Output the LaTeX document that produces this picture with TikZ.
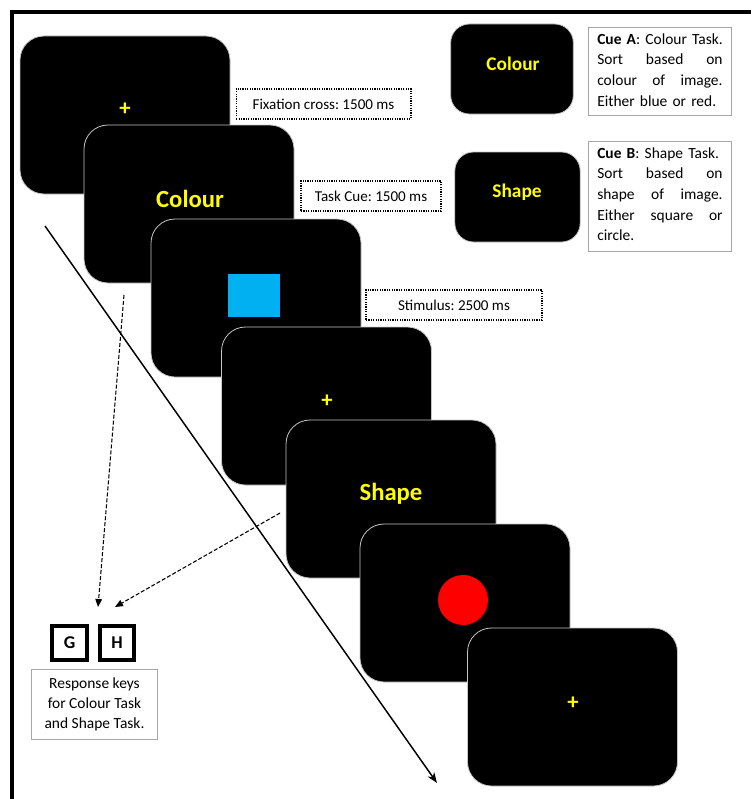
\documentclass[tikz,border=0pt]{standalone}
\usepackage{fontspec}
\setmainfont{Carlito}
\usetikzlibrary{arrows.meta}
\definecolor{cueyellow}{HTML}{FFFF00}
\definecolor{stimblue}{HTML}{00B0F0}
\definecolor{stimred}{HTML}{FF0000}
\newcommand{\fullline}[1]{\makebox[\linewidth][l]{#1}}
\frenchspacing
\begin{document}
\begin{tikzpicture}[x=0.75pt,y=-0.75pt,
  slide/.style={fill=black, draw=gray!45, line width=0.6pt, rounded corners=18pt,
    minimum width=157.5pt, minimum height=118.5pt, inner sep=0pt},
  cueslide/.style={fill=black, draw=gray!45, line width=0.6pt, rounded corners=14pt,
    minimum width=92pt, minimum height=67.5pt, inner sep=0pt},
  bigword/.style={text=cueyellow, font=\bfseries\fontsize{18.5}{20}\selectfont},
  smallword/.style={text=cueyellow, font=\bfseries\fontsize{14.5}{16}\selectfont},
  crossmark/.style={text=cueyellow, font=\bfseries\fontsize{17}{18}\selectfont},
  timing/.style={draw, line width=1pt, dash pattern=on 0.9pt off 0.9pt,
    minimum height=22.5pt, inner sep=0pt, font=\fontsize{11.3}{13}\selectfont},
  infobox/.style={draw=gray!70, line width=0.6pt, inner sep=0pt, anchor=north west},
  infotext/.style={anchor=north west, inner sep=0pt, text width=94pt,
    font=\fontsize{11.6}{15.5}\selectfont},
  keybox/.style={draw, line width=3pt, minimum size=26pt, inner sep=0pt,
    font=\bfseries\fontsize{13.5}{14}\selectfont},
  flow/.style={line width=1.1pt, -{Stealth[length=8pt,width=6pt]}},
  link/.style={line width=0.8pt, dashed, dash pattern=on 3pt off 1.5pt,
    -{Triangle[length=6pt,width=5pt]}}
]
\useasboundingbox (0,0) rectangle (751,799);

% outer frame
\draw[line width=2.4pt] (751,12) -- (12,12) -- (12,799);

% trial sequence
\node[slide] (s1) at (125,115) {};
\node[crossmark] (c1) at (125,109) {+};
\node[slide] (s2) at (189,204) {};
\node[bigword] (w2) at (190,199) {Colour};
\node[slide] (s3) at (256,298) {};
\node[fill=stimblue, minimum width=39pt, minimum height=32.5pt, inner sep=0pt] (sq) at (254,295.5) {};
\node[slide] (s4) at (326.5,406) {};
\node[crossmark] (c4) at (327,401) {+};
\node[slide] (s5) at (391,499) {};
\node[bigword] (w5) at (391,494) {Shape};
\node[slide] (s6) at (465,603) {};
\node[fill=stimred, circle, minimum size=37.5pt, inner sep=0pt] (ci) at (463,600) {};
\node[slide] (s7) at (572.5,707) {};
\node[crossmark] (c7) at (573,703) {+};

% timing labels
\node[timing, minimum width=131pt] (t1) at (323.5,104) {Fixation cross: 1500 ms};
\node[timing, minimum width=105pt] (t2) at (371,196) {Task Cue: 1500 ms};
\node[timing, minimum width=132pt] (t3) at (454,305) {Stimulus: 2500 ms};

% cue legend
\node[cueslide] (ca) at (512,69) {};
\node[smallword] (cw) at (513,64) {Colour};
\node[cueslide, minimum width=94pt] (cb) at (517.5,197) {};
\node[smallword] (sw) at (517,192) {Shape};

\node[infobox, minimum width=107pt, minimum height=66pt] (ia) at (588,27) {};
\node[infotext] (ta) at (597,33) {%
  \fullline{\textbf{Cue A}: Colour Task.}\\
  \fullline{Sort\hfill based\hfill on}\\
  \fullline{colour\hfill of\hfill image.}\\
  \fullline{Either blue or red.}};

\node[infobox, minimum width=107pt, minimum height=82.5pt] (ib) at (588,141) {};
\node[infotext] (tb) at (597,147) {%
  \fullline{\textbf{Cue B}: Shape Task.}\\
  \fullline{Sort\hfill based\hfill on}\\
  \fullline{shape\hfill of\hfill image.}\\
  \fullline{Either\hfill square\hfill or}\\
  \fullline{circle.}};

% response keys
\node[keybox] (kg) at (69.5,643) {G};
\node[keybox] (kh) at (117,643) {H};
\node[draw=gray!70, line width=0.6pt, minimum width=95pt, minimum height=52pt,
  inner sep=0pt, align=center, font=\fontsize{11.6}{15}\selectfont] (rk) at (94.5,704.5)
  {Response keys\\for Colour Task\\and Shape Task.};

% connectors
\coordinate (flowstart) at (45,226);
\coordinate (flowend) at (437,783);
\draw[flow] (flowstart) -- (flowend);

\coordinate (cuefrom) at (124,295);
\coordinate (shapefrom) at (280,513);
\coordinate (keyleft) at (98,607);
\coordinate (keyright) at (115,607);
\draw[link] (cuefrom) -- (keyleft);
\draw[link] (shapefrom) -- (keyright);
\end{tikzpicture}
\end{document}
